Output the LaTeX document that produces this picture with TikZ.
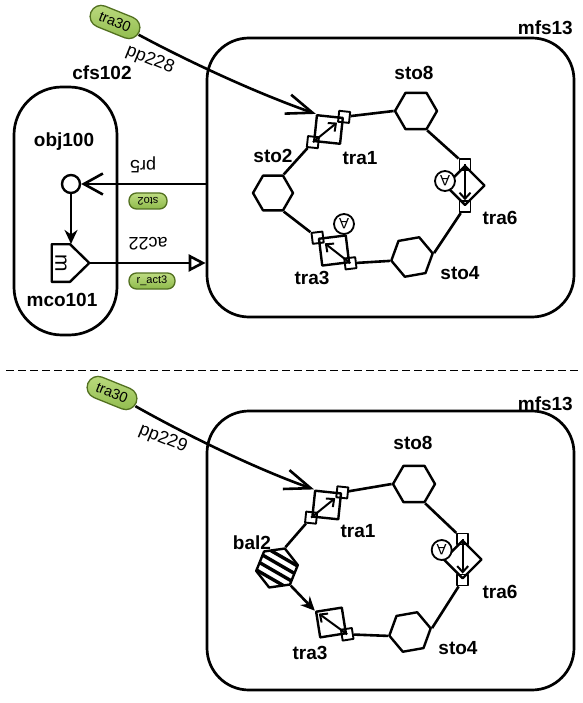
\documentclass[tikz,border=0pt]{standalone}
\usepackage{fontspec}
\setmainfont{Liberation Sans}
\usetikzlibrary{shapes.geometric,arrows.meta}
\definecolor{pilltop}{RGB}{190,220,130}
\definecolor{pillbot}{RGB}{142,186,74}
\definecolor{pillborder}{RGB}{82,112,32}
\begin{document}
\begin{tikzpicture}[x=1pt,y=-1pt,line join=round,
  lab/.style={font=\bfseries\fontsize{19}{19}\selectfont, inner sep=0},
  elab/.style={font=\fontsize{18}{18}\selectfont, inner sep=0},
  hexa/.style={draw, line width=2.4pt, regular polygon, regular polygon sides=6, minimum size=42, inner sep=0},
  transq/.style={draw, line width=2.4pt, rectangle, minimum size=26, inner sep=0},
  port/.style={draw, line width=1.9pt, rectangle, minimum size=11, inner sep=0},
  link/.style={line width=2.6pt},
  inarr/.style={line width=2pt, -{Straight Barb[length=6pt,width=11pt]}},
  acirc/.style={draw, line width=1.8pt, circle, fill=white, minimum size=20, inner sep=0, rotate=180, font=\fontsize{15}{15}\selectfont},
  pill/.style={draw=pillborder, line width=1.3pt, rounded corners=11pt, minimum width=52, minimum height=22, inner sep=0, top color=pilltop, bottom color=pillbot, font=\fontsize{14.5}{14.5}\selectfont},
  spill/.style={pill, rounded corners=7.5pt, minimum width=38, minimum height=16, font=\fontsize{11}{11}\selectfont},
  bigbox/.style={draw, line width=2.7pt, rounded corners=42, inner sep=0},
  barb/.style={-{Straight Barb[length=26pt,width=20pt]}},
  fillarr/.style={-{Stealth[length=14pt,width=13pt]}}
]
\useasboundingbox (0,0) rectangle (582,703);

% ================= TOP PANEL =================
\node[bigbox, minimum width=367, minimum height=279] (mfsA) at (390.5,177.5) {};
\node[lab, anchor=east] at (573,28) {mfs13};

\node[bigbox, rounded corners=48, minimum width=103, minimum height=248] (cfs) at (65.5,211) {};
\node[lab] at (102,73) {cfs102};
\node[lab] at (64,142) {obj100};
\node[lab] at (62,300) {mco101};

\node[draw, circle, line width=2.4pt, minimum size=18, inner sep=0] (obj) at (71,184) {};
\node[minimum width=37.6, minimum height=37.7, inner sep=0] (mco) at (70.5,263) {};
\draw[line width=2.4pt] (51.7,244.2) -- (70,244.2) -- (89.3,263) -- (70,281.8) -- (51.7,281.8) -- cycle;
\node[font=\fontsize{21}{21}\selectfont, rotate=-90, inner sep=0] at (61,263) {m};

\draw[link, fillarr] (obj) -- (obj |- mco.north);
\draw[link, -{Straight Barb[length=19pt,width=21pt]}] (mfsA.west |- obj) -- (obj);
\draw[link, -{Triangle[open,length=17pt,width=17pt]}, fill=white] (mco.east) -- (mco.east -| mfsA.west);
\node[elab, rotate=180] at (143,165) {pr5};
\node[spill, rotate=180] at (148,201) {sto2};
\node[elab, rotate=180] at (148,244) {ac22};
\node[spill, minimum width=46] at (152,281) {r\_act3};

\node[pill, rotate=-22] (t30a) at (115,22) {tra30};
\node[elab, rotate=-22] at (150,60) {pp228};

\node[hexa, minimum size=40] (sto2a) at (273,193) {};
\node[hexa] (sto8a) at (416,111) {};
\node[hexa, regular polygon rotate=10] (sto4a) at (412,257) {};
\node[lab] at (273,156) {sto2};
\node[lab] at (414,73) {sto8};
\node[lab] at (460,273) {sto4};

\node[transq, rotate=-6] (tra1a) at (328.5,129.5) {};
\node[port, rotate=-6] (p1aa) at (tra1a.north east) {};
\node[port, rotate=-6] (p1ab) at (tra1a.south west) {};
\draw[inarr] (p1ab.center) -- (p1aa);
\node[lab] at (360,158) {tra1};

\node[transq, rotate=45, minimum size=27.5] (tra6a) at (465,185.5) {};
\node[port] (p6aa) at (tra6a.north east) {};
\node[port] (p6ab) at (tra6a.south west) {};
\draw[inarr] (p6aa.center) -- (p6ab);
\node[acirc] (c6a) at (445,181) {A};
\node[lab] at (500,218) {tra6};

\node[transq, rotate=7, minimum size=27] (tra3a) at (334,250.5) {};
\node[port, rotate=7] (p3aa) at (tra3a.north west) {};
\node[port, rotate=7] (p3ab) at (tra3a.south east) {};
\draw[inarr] (p3ab.center) -- (p3aa);
\node[acirc] (c3a) at (344,224) {A};
\node[lab] at (312,278) {tra3};

\draw[link, barb] (t30a) .. controls (191,63) and (260,94.5) .. (tra1a.north west);
\draw[link] (sto2a.60) -- (p1ab);
\draw[link] (p1aa) -- (sto8a.180);
\draw[link] (sto8a.300) -- (p6aa);
\draw[link] (p6ab) -- (sto4a.10);
\draw[link] (sto4a.190) -- (p3ab);
\draw[link] (sto2a.300) -- (p3aa);

% separator
\draw[line width=1pt, dash pattern=on 8pt off 4pt] (6,370) -- (578,370);

% ================= BOTTOM PANEL =================
\node[bigbox, minimum width=367, minimum height=279] (mfsB) at (390.5,550.5) {};
\node[lab, anchor=east] at (573,404) {mfs13};

\node[pill, rotate=-22] (t30b) at (112,393) {tra30};
\node[elab, rotate=-22] at (163,439) {pp229};

\node[hexa] (sto8b) at (414,484) {};
\node[hexa, regular polygon rotate=10] (sto4b) at (410,632) {};
\node[hexa, regular polygon rotate=8, path picture={
    \foreach \k in {-12,-4,4,12}
      \draw[line width=3.4pt] ([shift={(-\k*0.5-30*0.866,\k*0.866-15)}]path picture bounding box.center) -- ++(52,30);
  }] (bal2) at (277,568) {};
\node[lab] at (413,443) {sto8};
\node[lab] at (458,648) {sto4};
\node[lab] at (252,543) {bal2};

\node[transq, rotate=-6] (tra1b) at (326.7,505) {};
\node[port, rotate=-6] (p1ba) at (tra1b.north east) {};
\node[port, rotate=-6] (p1bb) at (tra1b.south west) {};
\draw[inarr] (p1bb.center) -- (p1ba);
\node[lab] at (358,531) {tra1};

\node[transq, rotate=45, minimum size=26.6] (tra6b) at (462.7,559.5) {};
\node[port] (p6ba) at (tra6b.north east) {};
\node[port] (p6bb) at (tra6b.south west) {};
\draw[inarr] (p6ba.center) -- (p6bb);
\node[acirc] (c6b) at (441.7,550) {A};
\node[lab] at (500,592) {tra6};

\node[transq, rotate=9] (tra3b) at (331,622.5) {};
\node[port, rotate=9] (p3bb) at (tra3b.south east) {};
\draw[inarr, shorten >=5pt] (p3bb.center) -- (tra3b.north west);
\node[lab] at (310,653) {tra3};

\draw[link, barb] (t30b) .. controls (190,437) and (259,470) .. (tra1b.north west);
\draw[link] (bal2.68) -- (p1bb);
\draw[link] (p1ba) -- (sto8b.180);
\draw[link] (sto8b.300) -- (p6ba);
\draw[link] (p6bb) -- (sto4b.10);
\draw[link] (sto4b.190) -- (p3bb);
\draw[link, fillarr] (bal2.308) -- (tra3b.north west);
\end{tikzpicture}
\end{document}
